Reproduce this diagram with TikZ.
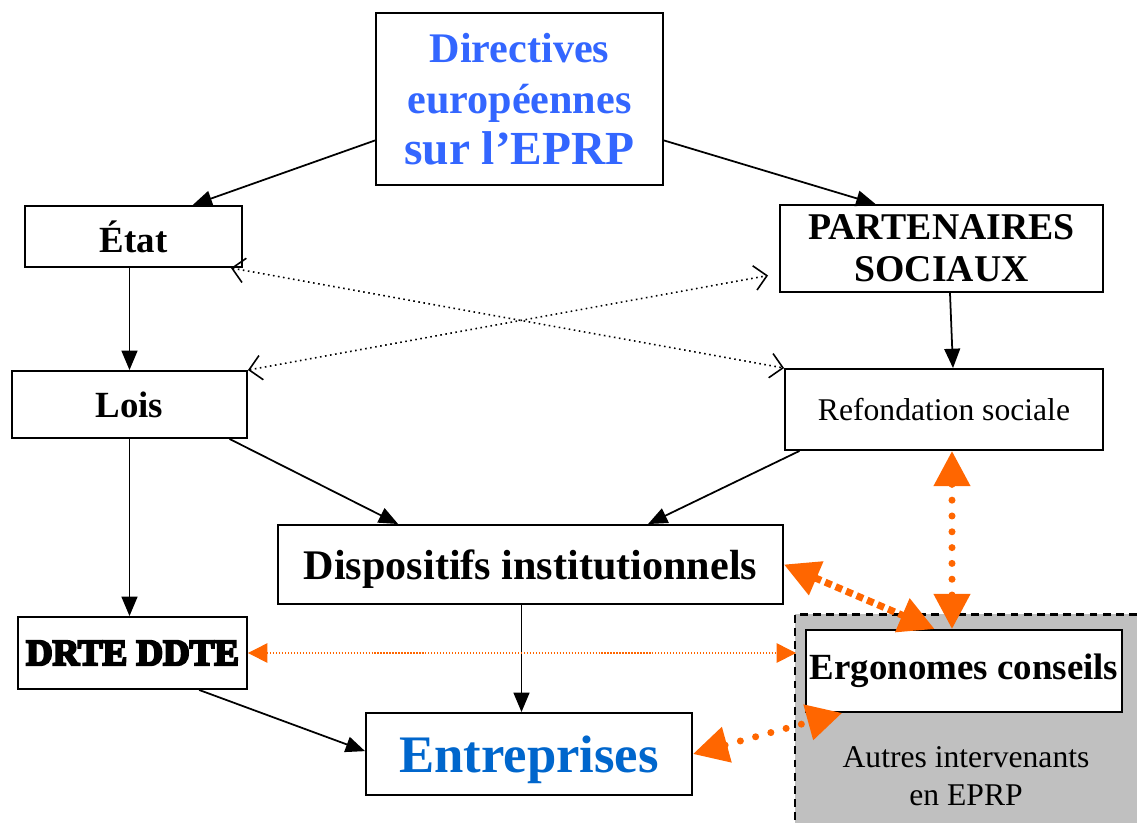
\documentclass[tikz,border=0pt]{standalone}
\usepackage{fontspec}
\setmainfont{Liberation Serif}
\newfontfamily\heavyfont[FakeBold=6]{Liberation Serif}
\usetikzlibrary{arrows.meta}
\definecolor{dirblue}{HTML}{3366FF}
\definecolor{entblue}{HTML}{0066CC}
\definecolor{ergorange}{HTML}{FF6600}
\definecolor{zonegray}{HTML}{C0C0C0}

\begin{document}
\begin{tikzpicture}[
x=0.02cm, y=-0.02cm,
mybox/.style={
  draw,
  line width=1.1pt,
  fill=white,
  inner sep=0pt,
  align=center
  },
myarrow/.style={-{Triangle[length=11pt,width=9pt]}, line width=1pt},
crossarrow/.style={{Straight Barb[length=7pt,width=14pt]}-{Straight Barb[length=7pt,width=14pt]}, line width=0.9pt, dotted},
thinorange/.style={{Triangle[length=11pt,width=11pt]}-{Triangle[length=11pt,width=11pt]}, ergorange, line width=0.7pt, densely dotted},
bigorange/.style={{Triangle[length=20pt,width=20pt]}-{Triangle[length=20pt,width=20pt]}, ergorange, line width=4pt}
]
\useasboundingbox (0,0) rectangle (1137,823);

% zone des autres intervenants
\fill[zonegray] (795,614) rectangle (1137,823);
\draw[line width=1.7pt, dash pattern=on 4.5pt off 3pt] (1137,614) -- (795,614) -- (795,823);
\node[align=center, font=\fontsize{18}{21.5}\selectfont] (autres) at (966,776) {Autres intervenants\\en EPRP};

% boites
\node[mybox, minimum width=5.74cm, minimum height=3.44cm, text=dirblue, font=\bfseries\fontsize{24}{28}\selectfont] (dir) at (519.5,99)
  {Directives\\[1pt]europ\'eennes\\[1pt]{\fontsize{27}{28}\selectfont sur l’EPRP}};
\node[mybox, minimum width=4.34cm, minimum height=1.22cm, font=\bfseries\fontsize{21}{25}\selectfont] (etat) at (133.5,236.5)
  {État};
\node[mybox, minimum width=6.46cm, minimum height=1.74cm, font=\bfseries\fontsize{21.5}{24}\selectfont] (part) at (941.5,248.5)
  {PARTENAIRES\\SOCIAUX};
\node[mybox, minimum width=4.7cm, minimum height=1.34cm, font=\bfseries\fontsize{21}{25}\selectfont] (lois) at (129.5,404.5)
  {Lois};
\node[mybox, minimum width=6.36cm, minimum height=1.62cm, font=\fontsize{18}{22}\selectfont] (ref) at (944,409.5)
  {Refondation sociale};
\node[mybox, minimum width=10.1cm, minimum height=1.58cm, text depth=0pt, font=\bfseries\fontsize{24}{28}\selectfont] (disp) at (530.5,564.5)
  {Dispositifs institutionnels};
\node[mybox, minimum width=4.58cm, minimum height=1.44cm, font=\heavyfont\bfseries\fontsize{21}{25}\selectfont] (drte) at (132.5,653)
  {DRTE DDTE};
\node[mybox, minimum width=6.52cm, minimum height=1.64cm, text depth=0pt, text=entblue, font=\bfseries\fontsize{30}{34}\selectfont] (ent) at (529,754)
  {Entreprises};
\node[mybox, minimum width=6.32cm, minimum height=1.64cm, font=\bfseries\fontsize{21}{25}\selectfont] (ergo) at (964,671)
  {Ergonomes conseils};

% fleches noires
\path[myarrow]
  (dir.196) edge (etat.28)
  (dir.344) edge (part.146)
  (etat.south -| lois.north) edge (lois.north)
  ([xshift=0.17cm]part.south) edge ([xshift=0.18cm]ref.north)
  (lois.south) edge (lois.south |- drte.north)
  (lois.-19) edge (disp.163)
  (ref.196) edge (disp.19)
  ([xshift=-0.15cm]ent.north |- disp.south) edge ([xshift=-0.15cm]ent.north)
  (drte.-29) edge (ent.179);

% liens croises
\draw[crossarrow] ([xshift=-0.24cm]etat.south east) -- (ref.north west);
\draw[crossarrow] (lois.north east) -- ([xshift=-0.22cm,yshift=-0.54cm]part.west);

% liens ergonomes
\draw[thinorange, shorten >=0.18cm] (drte.east) -- (drte.east -| ergo.west);
\draw[bigorange, dash pattern=on 4pt off 2.5pt] (disp.east) -- (ergo.125);
\draw[bigorange, line cap=round, dash pattern=on 0pt off 9pt] ([xshift=0.16cm]ref.south) -- ([xshift=0.16cm]ref.south |- ergo.north);
\draw[bigorange, line cap=round, dash pattern=on 0pt off 9pt] (ent.east) -- (ergo.199);
\end{tikzpicture}
\end{document}
